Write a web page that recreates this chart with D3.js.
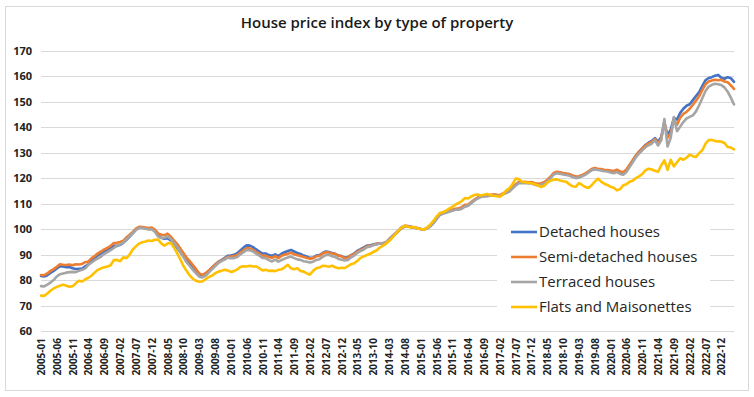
<!DOCTYPE html>
<html>
<head>
<meta charset="utf-8">
<script src="https://cdn.jsdelivr.net/npm/d3@7"></script>
<style>
  body { margin: 0; background: #fff; }
  svg { display: block; font-family: "Open Sans", sans-serif; }
</style>
</head>
<body>
<script>
// monthly index values, Jan 2015 = 100, from 2005-01 to 2023-04
var startYear = 2005;
var monthCount = 220;

var detached = [
  81.6, 81.4, 81.9, 82.8, 83.6, 84.5, 85.4, 85.3, 85.0, 85.1, 84.6, 84.3,
  84.4, 84.5, 85.4, 86.2, 87.6, 88.6, 89.8, 90.5, 91.3, 91.8, 92.5, 93.4,
  93.4, 93.8, 94.6, 95.8, 97.0, 98.3, 99.8, 100.6, 100.5, 100.3, 100.1, 100.2,
  99.3, 97.5, 96.6, 96.2, 96.4, 95.6, 94.1, 92.6, 91.0, 89.4, 87.7, 86.5,
  85.2, 83.8, 82.3, 81.7, 82.4, 83.6, 84.8, 86.0, 87.1, 87.8, 88.6, 89.5,
  89.6, 89.9, 90.5, 91.6, 92.7, 93.6, 93.5, 92.9, 92.0, 91.2, 90.4, 90.4,
  89.8, 89.5, 90.1, 89.4, 90.3, 90.9, 91.4, 91.8, 91.2, 90.6, 90.2, 89.6,
  89.2, 88.7, 88.8, 89.6, 89.8, 90.6, 91.2, 91.0, 90.6, 90.3, 89.6, 89.4,
  88.8, 89.0, 89.8, 90.4, 91.5, 92.1, 92.8, 93.5, 93.6, 93.9, 94.2, 94.3,
  94.3, 94.5, 95.6, 96.9, 98.1, 99.2, 100.4, 101.1, 101.1, 100.8, 100.5, 100.3,
  100.0, 99.8, 100.3, 101.1, 102.4, 104.0, 105.6, 106.2, 106.6, 107.0, 107.4, 107.8,
  107.8, 108.2, 109.0, 109.2, 110.3, 111.4, 112.2, 112.8, 113.0, 113.0, 113.3, 113.5,
  113.3, 113.1, 113.7, 114.3, 114.9, 116.2, 117.3, 118.3, 118.3, 118.4, 118.2, 118.3,
  117.8, 117.6, 117.7, 118.1, 119.1, 120.3, 121.7, 122.2, 122.1, 121.8, 121.6, 121.3,
  120.8, 120.4, 120.4, 120.9, 121.5, 122.3, 123.2, 123.6, 123.4, 123.3, 123.0, 122.9,
  122.7, 122.5, 122.9, 122.3, 122.0, 123.0, 124.9, 126.9, 128.8, 130.4, 131.7, 133.0,
  133.9, 134.6, 135.7, 134.2, 136.2, 141.6, 136.8, 139.0, 143.6, 143.0, 145.6, 147.2,
  148.4, 149.0, 150.6, 152.2, 153.8, 156.2, 158.4, 159.3, 159.6, 160.2, 160.5, 159.4,
  159.0, 159.6, 159.2, 157.8
];

var semiDetached = [
  82.0, 81.9, 82.6, 83.6, 84.3, 85.2, 86.2, 86.0, 85.9, 86.1, 85.8, 86.2,
  86.1, 86.3, 87.0, 87.3, 88.6, 89.4, 90.5, 91.2, 92.0, 92.6, 93.4, 94.5,
  94.6, 94.9, 95.4, 96.7, 97.8, 98.9, 100.2, 100.9, 100.8, 100.6, 100.4, 100.6,
  99.8, 98.3, 97.8, 97.6, 98.2, 97.1, 95.6, 94.2, 92.4, 90.6, 88.8, 87.4,
  85.9, 84.3, 82.6, 82.0, 82.7, 83.7, 84.9, 86.0, 87.1, 87.6, 88.3, 89.1,
  89.2, 89.4, 89.8, 90.8, 91.7, 92.6, 92.4, 91.8, 91.0, 90.3, 89.5, 89.6,
  89.0, 88.7, 89.4, 88.6, 89.5, 89.9, 90.3, 90.7, 90.1, 89.7, 89.4, 89.0,
  88.7, 88.3, 88.6, 89.3, 89.5, 90.4, 90.9, 90.8, 90.4, 90.2, 89.5, 89.3,
  88.5, 88.8, 89.7, 90.2, 91.2, 91.8, 92.4, 93.2, 93.4, 93.8, 94.2, 94.4,
  94.5, 94.8, 96.0, 97.2, 98.3, 99.4, 100.6, 101.3, 101.2, 100.9, 100.6, 100.4,
  100.0, 99.9, 100.5, 101.4, 102.7, 104.3, 105.9, 106.4, 106.8, 107.2, 107.6, 108.0,
  108.2, 108.6, 109.5, 109.6, 110.6, 111.6, 112.4, 113.0, 113.2, 113.2, 113.4, 113.6,
  113.5, 113.3, 114.0, 114.6, 115.2, 116.5, 117.6, 118.5, 118.4, 118.6, 118.4, 118.5,
  118.0, 117.8, 118.0, 118.4, 119.4, 120.6, 122.0, 122.5, 122.3, 122.0, 121.8, 121.6,
  121.0, 120.6, 120.7, 121.2, 121.8, 122.7, 123.6, 124.0, 123.7, 123.6, 123.3, 123.2,
  123.0, 122.8, 123.3, 122.6, 122.4, 123.4, 125.2, 127.0, 128.9, 130.3, 131.6, 132.8,
  133.6, 134.2, 135.3, 133.6, 135.5, 142.0, 135.8, 137.5, 142.8, 141.0, 143.7, 145.2,
  146.0, 147.2, 148.8, 150.4, 152.2, 154.6, 156.8, 157.9, 158.3, 158.6, 158.4, 158.6,
  157.9, 157.6, 156.4, 155.0
];

var terraced = [
  77.6, 77.5, 78.2, 79.0, 80.0, 81.4, 82.3, 82.6, 82.9, 83.1, 83.2, 83.1,
  83.6, 84.0, 84.6, 86.0, 86.9, 87.8, 88.5, 89.2, 90.3, 91.0, 91.7, 92.6,
  93.5, 94.0, 94.7, 96.0, 97.2, 98.4, 99.7, 100.4, 100.4, 100.1, 99.8, 99.9,
  98.9, 97.1, 96.5, 96.6, 97.2, 96.1, 94.6, 93.0, 91.0, 89.0, 87.0, 85.5,
  84.0, 82.6, 81.3, 81.0, 81.7, 82.9, 84.2, 85.4, 86.6, 87.4, 88.0, 88.8,
  88.6, 88.6, 89.0, 90.1, 90.9, 91.8, 91.7, 91.2, 90.3, 89.6, 88.7, 88.6,
  87.8, 87.3, 88.0, 87.2, 87.8, 88.4, 88.8, 89.2, 88.6, 88.1, 87.9, 87.4,
  87.2, 86.9, 87.2, 87.9, 88.2, 89.1, 89.8, 89.9, 89.3, 89.0, 88.3, 88.0,
  87.7, 87.9, 88.9, 89.6, 90.7, 91.4, 92.0, 92.9, 93.2, 93.6, 94.0, 94.3,
  94.3, 94.7, 96.0, 97.3, 98.4, 99.6, 100.8, 101.3, 101.1, 100.7, 100.5, 100.3,
  100.0, 99.7, 100.4, 101.1, 102.3, 104.0, 105.5, 106.0, 106.4, 106.8, 107.2, 107.6,
  107.6, 108.0, 108.9, 109.2, 110.2, 111.2, 112.0, 112.6, 112.8, 112.9, 113.1, 113.3,
  113.1, 113.0, 113.6, 114.1, 114.7, 115.9, 117.1, 118.0, 118.0, 118.1, 117.9, 118.0,
  117.4, 117.1, 117.4, 117.8, 118.8, 120.0, 121.4, 121.9, 121.7, 121.4, 121.2, 120.9,
  120.4, 120.0, 120.2, 120.7, 121.3, 122.2, 123.1, 123.5, 123.2, 123.0, 122.7, 122.6,
  122.2, 121.9, 122.4, 121.6, 121.3, 122.4, 124.3, 126.2, 128.2, 129.6, 130.9, 132.1,
  132.9, 133.5, 134.9, 132.8, 134.8, 143.2, 132.4, 135.8, 144.0, 138.4, 140.2, 142.0,
  143.4, 144.0, 144.6, 146.2, 148.6, 151.4, 154.2, 155.9, 156.6, 157.0, 156.8, 156.5,
  155.6, 153.9, 151.6, 148.9
];

var flats = [
  73.9, 73.8, 74.7, 75.8, 76.7, 77.3, 77.8, 78.2, 77.8, 77.4, 77.6, 78.7,
  79.7, 79.4, 80.3, 80.9, 81.8, 83.0, 84.0, 84.6, 85.0, 85.3, 85.8, 87.8,
  87.9, 87.4, 88.9, 88.6, 90.0, 92.0, 93.2, 94.3, 94.8, 95.1, 95.5, 95.3,
  95.8, 95.9, 94.4, 93.5, 94.3, 94.6, 92.8, 90.6, 88.2, 85.5, 83.6, 81.8,
  80.5, 79.7, 79.3, 79.4, 80.3, 81.2, 81.7, 82.6, 83.3, 83.6, 84.0, 83.8,
  83.2, 83.5, 84.2, 85.1, 85.4, 85.3, 85.6, 85.3, 85.4, 84.6, 83.8, 84.0,
  83.6, 83.7, 83.5, 84.0, 84.2, 85.0, 86.0, 84.6, 84.2, 84.6, 83.6, 83.3,
  82.6, 82.1, 83.6, 84.6, 84.9, 85.6, 85.5, 85.2, 85.6, 85.0, 84.6, 84.8,
  84.7, 85.5, 86.2, 86.6, 87.6, 88.7, 89.3, 89.8, 90.3, 91.0, 91.6, 92.7,
  93.4, 94.2, 95.3, 96.6, 98.0, 99.4, 100.6, 101.3, 100.9, 100.6, 100.8, 100.2,
  100.0, 99.8, 100.5, 101.7, 103.2, 104.9, 106.3, 106.6, 107.2, 108.0, 108.7, 109.6,
  110.3, 111.0, 112.2, 112.0, 112.8, 113.4, 113.6, 113.2, 113.5, 113.8, 113.4, 113.1,
  112.9, 112.7, 113.6, 115.1, 116.0, 117.6, 119.8, 119.6, 118.6, 118.4, 118.2, 118.0,
  117.6, 117.2, 116.5, 117.0, 118.2, 119.0, 119.4, 119.5, 119.1, 118.8, 118.6, 117.5,
  116.8, 116.6, 118.0, 117.3, 116.5, 116.1, 117.2, 118.6, 119.8, 118.6, 117.8, 117.3,
  116.6, 116.2, 115.2, 115.6, 117.2, 117.6, 118.6, 119.0, 120.0, 120.7, 121.6, 123.0,
  123.7, 123.4, 122.9, 122.5, 125.0, 127.0, 123.2, 127.2, 124.6, 126.2, 127.8, 127.2,
  128.0, 129.2, 128.6, 128.3, 129.8, 131.0, 133.5, 134.9, 135.0, 134.6, 134.4, 134.3,
  133.8, 132.2, 132.0, 131.3
];

var seriesNames = ['Detached houses', 'Semi-detached houses', 'Terraced houses', 'Flats and Maisonettes'];
var seriesColors = ['#4472C4', '#ED7D31', '#A5A5A5', '#FFC000'];
var yTicks = [60, 70, 80, 90, 100, 110, 120, 130, 140, 150, 160, 170];

// month labels 2005-01 ... 2023-04
var months = [];
for (var i = 0; i < monthCount; i++) {
  var yr = startYear + Math.floor(i / 12);
  var mo = (i % 12) + 1;
  months.push(yr + '-' + (mo < 10 ? '0' : '') + mo);
}
var xLabels = months.filter(function(d, i) { return i % 5 === 0 && i < 216; });

var chartW = 754, chartH = 397;
var plotLeft = 41, plotRight = 734, plotTop = 50.7, plotBottom = 331;

var svg = d3.select('body').append('svg')
  .attr('width', chartW)
  .attr('height', chartH);

svg.append('rect')
  .attr('x', 5.5).attr('y', 6.5)
  .attr('width', 743).attr('height', 384)
  .attr('fill', '#fff')
  .attr('stroke', '#d9d9d9');

svg.append('text')
  .attr('x', 377).attr('y', 28)
  .attr('text-anchor', 'middle')
  .attr('font-size', 15)
  .attr('font-weight', 600)
  .attr('fill', '#1a1a1a')
  .text('House price index by type of property');

var xScale = d3.scalePoint().domain(months).range([plotLeft, plotRight]);
var yScale = d3.scaleLinear().domain([60, 170]).range([plotBottom, plotTop]);

// gridlines
svg.append('g').selectAll('line')
  .data(yTicks)
  .enter().append('line')
  .attr('x1', plotLeft).attr('x2', plotRight)
  .attr('y1', function(d) { return Math.round(yScale(d)) + 0.5; })
  .attr('y2', function(d) { return Math.round(yScale(d)) + 0.5; })
  .attr('stroke', '#d9d9d9');

var yAxis = svg.append('g')
  .attr('transform', 'translate(' + plotLeft + ',0)')
  .call(d3.axisLeft(yScale).tickValues(yTicks).tickSize(0).tickPadding(9));
yAxis.select('.domain').remove();
yAxis.selectAll('text')
  .attr('font-family', 'Open Sans')
  .attr('font-size', 11)
  .attr('font-weight', 700)
  .attr('fill', '#222');

var xAxis = svg.append('g')
  .attr('transform', 'translate(0,' + plotBottom + ')')
  .call(d3.axisBottom(xScale).tickValues(xLabels).tickSize(0));
xAxis.select('.domain').remove();
xAxis.selectAll('text')
  .attr('font-family', 'Open Sans')
  .attr('font-size', 10)
  .attr('font-weight', 700)
  .attr('fill', '#222')
  .attr('text-anchor', 'end')
  .attr('transform', 'translate(0,7) rotate(-90)')
  .attr('x', 0).attr('y', 0)
  .attr('dy', '0.35em');

var allSeries = [detached, semiDetached, terraced, flats];

var line = d3.line()
  .x(function(d, i) { return xScale(months[i]); })
  .y(function(d) { return yScale(d); });

svg.append('g').selectAll('path')
  .data(allSeries)
  .enter().append('path')
  .attr('d', line)
  .attr('fill', 'none')
  .attr('stroke', function(d, i) { return seriesColors[i]; })
  .attr('stroke-width', 2.6)
  .attr('stroke-linejoin', 'round')
  .attr('stroke-linecap', 'round');

// legend
var legend = svg.append('g');
legend.append('rect')
  .attr('x', 497).attr('y', 216)
  .attr('width', 213).attr('height', 102)
  .attr('fill', '#fff');

var items = legend.selectAll('g.item')
  .data(seriesNames)
  .enter().append('g')
  .attr('class', 'item')
  .attr('transform', function(d, i) { return 'translate(511,' + (232 + i * 25) + ')'; });

items.append('line')
  .attr('x1', 0).attr('x2', 26)
  .attr('stroke', function(d, i) { return seriesColors[i]; })
  .attr('stroke-width', 2.6);

items.append('text')
  .attr('x', 28)
  .attr('dy', '0.35em')
  .attr('font-size', 15)
  .attr('fill', '#262626')
  .text(function(d) { return d; });
</script>
</body>
</html>
